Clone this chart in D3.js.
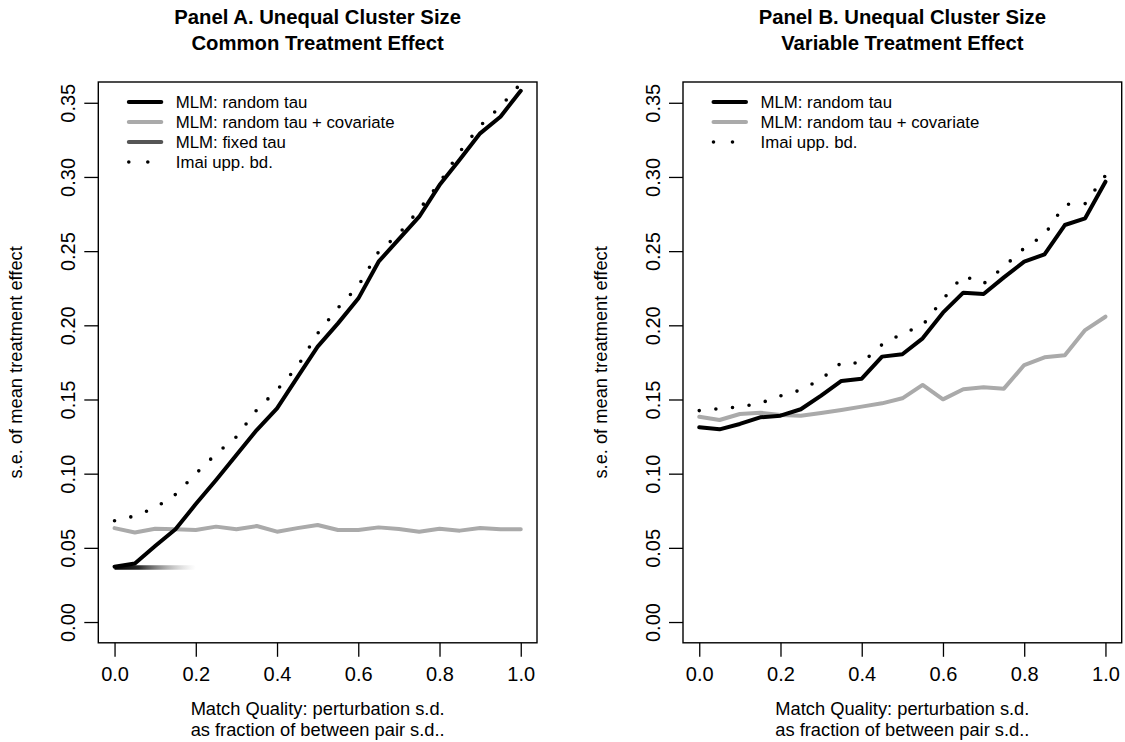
<!DOCTYPE html>
<html>
<meta charset="utf-8">
<style>
body { margin: 0; background: #fff; }
svg text { font-family: "Liberation Sans", Arial, Helvetica, sans-serif; fill: #000; }
.tick line { stroke: #000; stroke-width: 1.3px; }
.tick text { font-size: 20px; }
.ptitle { font-size: 20.3px; font-weight: bold; }
.alab { font-size: 18.3px; }
.leg { font-size: 16.8px; }
</style>
<body>
<script src="https://d3js.org/d3.v7.min.js"></script>
<script>

// match quality grid (x)
var matchQ = [0, 0.05, 0.10, 0.15, 0.20, 0.25, 0.30, 0.35, 0.40, 0.45, 0.50,
              0.55, 0.60, 0.65, 0.70, 0.75, 0.80, 0.85, 0.90, 0.95, 1.00];
var fixedQ = [0, 0.05, 0.10, 0.15, 0.20];

// Panel A: common treatment effect
var randTauA = [0.0373, 0.0395, 0.0512, 0.0625, 0.0795, 0.0957, 0.1126, 0.1294, 0.1440, 0.1649, 0.1856,
                0.2013, 0.2180, 0.2429, 0.2581, 0.2732, 0.2945, 0.3118, 0.3294, 0.3406, 0.3581];
var covA     = [0.0633, 0.0604, 0.0629, 0.0625, 0.0620, 0.0643, 0.0625, 0.0647, 0.0609, 0.0633, 0.0654,
                0.0620, 0.0620, 0.0638, 0.0627, 0.0609, 0.0629, 0.0616, 0.0634, 0.0625, 0.0625];
var fixedA   = [0.0368, 0.0368, 0.0368, 0.0368, 0.0368];
var imaiA    = [0.0683, 0.0715, 0.0770, 0.0860, 0.0999, 0.1134, 0.1248, 0.1430, 0.1564, 0.1720, 0.1945,
                0.2117, 0.2265, 0.2495, 0.2616, 0.2780, 0.2960, 0.3170, 0.3344, 0.3475, 0.3630];

// Panel B: variable treatment effect
var randTauB = [0.1313, 0.1299, 0.1335, 0.1380, 0.1391, 0.1434, 0.1526, 0.1625, 0.1640, 0.1789, 0.1805,
                0.1912, 0.2085, 0.2220, 0.2211, 0.2323, 0.2429, 0.2478, 0.2676, 0.2721, 0.2968];
var covB     = [0.1384, 0.1362, 0.1402, 0.1411, 0.1396, 0.1391, 0.1409, 0.1429, 0.1452, 0.1474, 0.1508,
                0.1598, 0.1501, 0.1569, 0.1582, 0.1573, 0.1732, 0.1784, 0.1798, 0.1968, 0.2058];
var imaiB    = [0.1425, 0.1438, 0.1450, 0.1475, 0.1524, 0.1564, 0.1637, 0.1748, 0.1745, 0.1870, 0.1945,
                0.2000, 0.2175, 0.2335, 0.2280, 0.2395, 0.2520, 0.2610, 0.2815, 0.2820, 0.3010];

var xTicks = [0, 0.2, 0.4, 0.6, 0.8, 1.0];
var yTicks = [0, 0.05, 0.10, 0.15, 0.20, 0.25, 0.30, 0.35];

var titlesA = ["Panel A. Unequal Cluster Size", "Common Treatment Effect"];
var titlesB = ["Panel B. Unequal Cluster Size", "Variable Treatment Effect"];
var xTitle = ["Match Quality: perturbation s.d.", "as fraction of between pair s.d.."];
var yTitle = "s.e. of mean treatment effect";

var legA = ["MLM: random tau", "MLM: random tau + covariate", "MLM: fixed tau", "Imai upp. bd."];
var legB = ["MLM: random tau", "MLM: random tau + covariate", "Imai upp. bd."];

var BLACK = "#000", GREY = "#aaaaaa", DARK = "#555555";

var svg = d3.select("body").append("svg").attr("width", 1125).attr("height", 742);
var defs = svg.append("defs");

function pairs(xs, ys) { return xs.map(function(v, i) { return [v, ys[i]]; }); }

function panel(id, left, right, titles, series, legend) {
  var top = 82, bottom = 642.8;
  var x = d3.scaleLinear().domain([-0.04, 1.04]).range([left, right]);
  var y = d3.scaleLinear().domain([-0.014, 0.364]).range([bottom, top]);
  var g = svg.append("g");
  var cx = (left + right) / 2;

  defs.append("clipPath").attr("id", "clip" + id).append("rect")
    .attr("x", left).attr("y", top).attr("width", right - left).attr("height", bottom - top);

  // fading stroke for the short fixed-tau run (user space, horizontal path)
  var grad = defs.append("linearGradient").attr("id", "fade" + id)
    .attr("gradientUnits", "userSpaceOnUse")
    .attr("x1", x(0)).attr("x2", x(0.2)).attr("y1", 0).attr("y2", 0);
  grad.append("stop").attr("offset", "0%").attr("stop-color", "#000").attr("stop-opacity", 1);
  grad.append("stop").attr("offset", "30%").attr("stop-color", "#111").attr("stop-opacity", 0.9);
  grad.append("stop").attr("offset", "100%").attr("stop-color", "#999").attr("stop-opacity", 0);

  // titles
  titles.forEach(function(t, i) {
    g.append("text").attr("class", "ptitle").attr("x", cx).attr("y", 24 + i * 26)
      .attr("text-anchor", "middle").text(t);
  });

  // axes
  var xa = g.append("g").attr("transform", "translate(0," + bottom + ")")
    .call(d3.axisBottom(x).tickValues(xTicks).tickSize(14).tickPadding(10).tickFormat(d3.format(".1f")));
  xa.select(".domain").remove();

  var ya = g.append("g").attr("transform", "translate(" + left + ",0)")
    .call(d3.axisLeft(y).tickValues(yTicks).tickSize(14).tickFormat(d3.format(".2f")));
  ya.select(".domain").remove();
  ya.selectAll(".tick text").attr("x", 0).attr("y", -23).attr("dy", null)
    .attr("text-anchor", "middle").attr("transform", "rotate(-90)");

  xTitle.forEach(function(t, i) {
    g.append("text").attr("class", "alab").attr("x", cx).attr("y", 715 + i * 21)
      .attr("text-anchor", "middle").text(t);
  });
  g.append("text").attr("class", "alab")
    .attr("transform", "translate(" + (left - 76) + "," + ((top + bottom) / 2) + ") rotate(-90)")
    .attr("text-anchor", "middle").text(yTitle);

  // series
  var line = d3.line().x(function(d) { return x(d[0]); }).y(function(d) { return y(d[1]); });
  var plot = g.append("g").attr("clip-path", "url(#clip" + id + ")");
  series.forEach(function(s) {
    var p = plot.append("path").datum(s.data).attr("d", line).attr("fill", "none")
      .attr("stroke", s.fade ? "url(#fade" + id + ")" : s.stroke).attr("stroke-width", s.width)
      .attr("stroke-linejoin", "round").attr("stroke-linecap", s.fade ? "butt" : "round");
    if (s.dash) p.attr("stroke-dasharray", s.dash);
  });

  // box
  g.append("rect").attr("x", left).attr("y", top).attr("width", right - left).attr("height", bottom - top)
    .attr("fill", "none").attr("stroke", "#000").attr("stroke-width", 1.4);

  // legend
  var lg = g.append("g").attr("transform", "translate(" + left + "," + top + ")");
  legend.forEach(function(l, i) {
    var ly = 20 + i * 20;
    var seg = lg.append("line").attr("x1", 30.5).attr("x2", 63).attr("y1", ly).attr("y2", ly)
      .attr("stroke", l.stroke).attr("stroke-width", l.width).attr("stroke-linecap", "round");
    if (l.dash) seg.attr("x2", 50).attr("stroke-dasharray", "0 19");
    lg.append("text").attr("class", "leg").attr("x", 77.5).attr("y", ly + 6).text(l.name);
  });
}

panel("A", 98.3, 537, titlesA, [
  { data: pairs(matchQ, covA), stroke: GREY, width: 4 },
  { data: pairs(fixedQ, fixedA), fade: true, width: 4.5 },
  { data: pairs(matchQ, randTauA), stroke: BLACK, width: 4 },
  { data: pairs(matchQ, imaiA), stroke: BLACK, width: 3.6, dash: "0 16.7" }
], [
  { name: legA[0], stroke: BLACK, width: 4 },
  { name: legA[1], stroke: GREY, width: 4 },
  { name: legA[2], stroke: DARK, width: 4 },
  { name: legA[3], stroke: BLACK, width: 3.6, dash: true }
]);

panel("B", 683, 1121.7, titlesB, [
  { data: pairs(matchQ, covB), stroke: GREY, width: 4 },
  { data: pairs(matchQ, randTauB), stroke: BLACK, width: 4 },
  { data: pairs(matchQ, imaiB), stroke: BLACK, width: 3.6, dash: "0 16.7" }
], [
  { name: legB[0], stroke: BLACK, width: 4 },
  { name: legB[1], stroke: GREY, width: 4 },
  { name: legB[2], stroke: BLACK, width: 3.6, dash: true }
]);

</script>
</body>
</html>
